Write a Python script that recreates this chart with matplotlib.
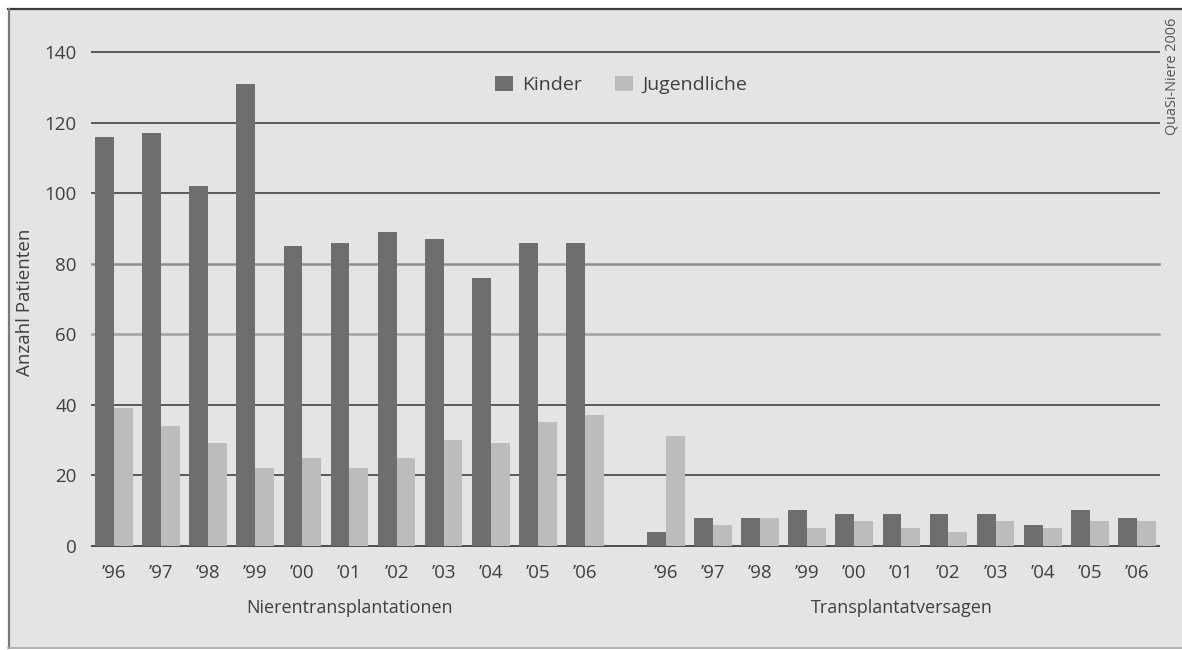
import matplotlib
matplotlib.use("Agg")
import matplotlib.pyplot as plt
from matplotlib.patches import Rectangle
from matplotlib.transforms import blended_transform_factory
import numpy as np

plt.rcParams['font.family'] = ['Open Sans', 'DejaVu Sans']

years = ["’96", "’97", "’98", "’99", "’00", "’01", "’02", "’03", "’04", "’05", "’06"]
groups = ["Nierentransplantationen", "Transplantatversagen"]
series = ["Kinder", "Jugendliche"]

tx_kinder = [116, 117, 102, 131, 85, 86, 89, 87, 76, 86, 86]
tx_jugend = [39, 34, 29, 22, 25, 22, 25, 30, 29, 35, 37]
fail_kinder = [4, 8, 8, 10, 9, 9, 9, 9, 6, 10, 8]
fail_jugend = [31, 6, 8, 5, 7, 5, 4, 7, 5, 7, 7]

yticks = [0, 20, 40, 60, 80, 100, 120, 140]

W, H = 1182, 650
fig = plt.figure(figsize=(W / 100, H / 100), dpi=100, facecolor="white")
text_color = "#404040"

# grey panel with its frame
panel = Rectangle((8 / W, 2 / H), 1.0, (648 - 10) / H, transform=fig.transFigure,
                  facecolor="#e4e4e4", edgecolor="none", zorder=-5)
fig.patches.append(panel)
fig.add_artist(plt.Line2D([8 / W, 1], [1 - 8.5 / H] * 2, color="#3a3a3a", lw=1.6, zorder=-4))
fig.add_artist(plt.Line2D([8.5 / W] * 2, [2 / H, 1 - 8.5 / H], color="#7a7a7a", lw=1.6, zorder=-4))
fig.add_artist(plt.Line2D([8 / W, 1], [2.5 / H] * 2, color="#a8a8a8", lw=1.2, zorder=-4))

ax = fig.add_axes([92 / W, (650 - 545.7) / H, 1067 / W, (545.7 - 52.3) / H])
ax.set_facecolor("none")
for s in ax.spines.values():
    s.set_visible(False)

dark = "#6e6e6e"
light = "#bcbcbc"
bw = 0.4
n = len(years)
offset = 11.72
xl = np.arange(n)
xr = np.arange(n) + offset

ax.bar(xl - bw / 2, tx_kinder, bw, color=dark, zorder=3, label=series[0])
ax.bar(xl + bw / 2, tx_jugend, bw, color=light, zorder=3, label=series[1])
ax.bar(xr - bw / 2, fail_kinder, bw, color=dark, zorder=3)
ax.bar(xr + bw / 2, fail_jugend, bw, color=light, zorder=3)

# horizontal rules at each tick
rule_colors = {0: "#4a4a4a", 60: "#a2a2a2", 80: "#8e8e8e"}
for v in yticks:
    ax.axhline(v, color=rule_colors.get(v, "#585858"),
               lw=1.4 if v not in (60, 80) else 1.8, zorder=1, clip_on=False)

ax.set_ylim(0, 140)
ax.set_xlim(-0.467, 22.19)
ax.set_yticks(yticks)
ax.set_yticklabels([str(v) for v in yticks])
ax.set_xticks(np.concatenate([xl, xr]))
ax.set_xticklabels(years + years)
ax.tick_params(axis="both", length=0, labelsize=13.5, labelcolor=text_color)
ax.tick_params(axis="x", pad=13)
ax.tick_params(axis="y", pad=11)

fig.text(25 / W, 1 - 302 / H, "Anzahl Patienten", rotation=90, ha="center", va="center",
         fontsize=13.5, color=text_color)

trans = blended_transform_factory(ax.transData, fig.transFigure)
ax.text((n - 1) / 2, 1 - 608 / H, groups[0], transform=trans, ha="center", va="center",
        fontsize=13, color=text_color)
ax.text(offset + (n - 1) / 2, 1 - 608 / H, groups[1], transform=trans, ha="center",
        va="center", fontsize=13, color=text_color)

leg = fig.legend(loc="center", bbox_to_anchor=(621 / W, 1 - 85 / H), ncol=2, frameon=False,
                 fontsize=14, handlelength=0.93, handleheight=0.85, handletextpad=0.46,
                 columnspacing=1.7, borderpad=0.2)
for t in leg.get_texts():
    t.set_color(text_color)

fig.text(1172 / W, 1 - 76 / H, "QuaSi-Niere 2006", rotation=90, ha="center", va="center",
         fontsize=10.4, color="#555555")

fig.savefig("out.png", dpi=100, facecolor="white")
